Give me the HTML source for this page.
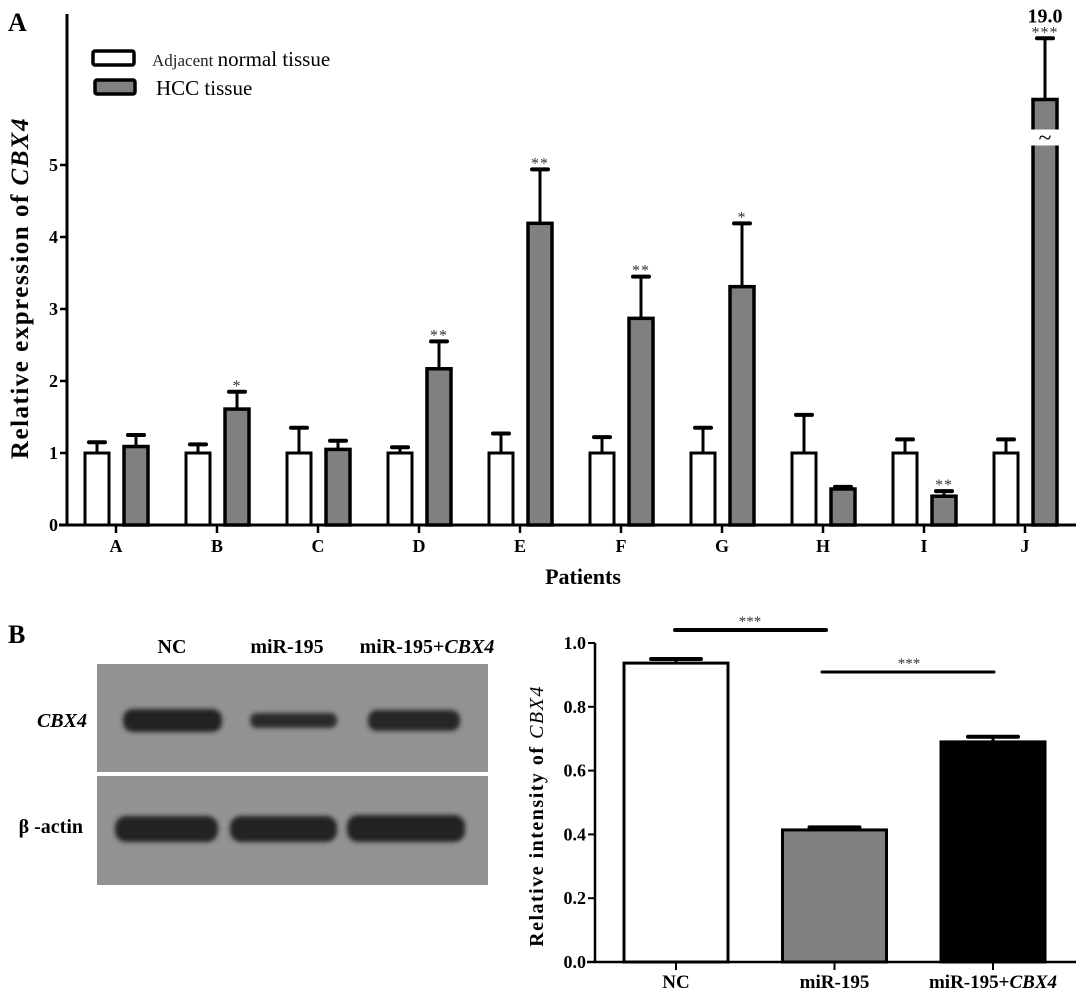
<!DOCTYPE html>
<html><head><meta charset="utf-8"><style>
html,body{margin:0;padding:0;background:#fff;}
svg{display:block;font-family:"Liberation Serif",serif;}
</style></head><body>
<svg id="fig" width="1081" height="995" viewBox="0 0 1081 995">
<rect x="0" y="0" width="1081" height="995" fill="#fff"/>
<text x="8" y="31" font-size="26" font-weight="bold">A</text>
<g id="chartA"></g>
<text x="8" y="643" font-size="26" font-weight="bold">B</text>
<g id="blot">
  <text x="172" y="653" font-size="20" font-weight="bold" text-anchor="middle">NC</text>
  <text x="287" y="653" font-size="20" font-weight="bold" text-anchor="middle">miR-195</text>
  <text x="427" y="653" font-size="20" font-weight="bold" text-anchor="middle">miR-195+<tspan font-style="italic">CBX4</tspan></text>
  <defs><filter id="blur" x="-20%" y="-60%" width="140%" height="220%"><feGaussianBlur stdDeviation="2.5"/></filter></defs>
  <rect x="97" y="664" width="391" height="108" fill="#939393"/>
  <rect x="97" y="776" width="391" height="109" fill="#939393"/>
  <g filter="url(#blur)">
    <rect x="123" y="709" width="99" height="23" rx="10" fill="#222"/>
    <rect x="250" y="713" width="87" height="15" rx="7" fill="#2a2a2a"/>
    <rect x="368" y="710" width="92" height="21" rx="9" fill="#262626"/>
    <rect x="115" y="816" width="103" height="26" rx="11" fill="#202020"/>
    <rect x="230" y="816" width="107" height="26" rx="11" fill="#202020"/>
    <rect x="347" y="815" width="118" height="27" rx="11" fill="#202020"/>
  </g>
  <text x="87" y="727" font-size="20" font-weight="bold" font-style="italic" text-anchor="end">CBX4</text>
  <text x="83" y="833" font-size="20" font-weight="bold" text-anchor="end">β -actin</text>
</g>
<g id="chartB"></g>
</svg>
<script>
const NS="http://www.w3.org/2000/svg";
// ---- Chart A data ----
const patients=["A","B","C","D","E","F","G","H","I","J"];
const normalVals=[1,1,1,1,1,1,1,1,1,1];
const normalErr=[0.15,0.12,0.35,0.08,0.27,0.22,0.35,0.53,0.19,0.19];
const hccVals=[1.09,1.61,1.05,2.17,4.19,2.87,3.31,0.50,0.40,19.0];
const hccErr=[0.16,0.24,0.12,0.38,0.75,0.58,0.88,0.03,0.07,0.85];
const hccSig=["","*","","**","**","**","*","","**","***"];
const yTicksA=[0,1,2,3,4,5];
// ---- Chart B data ----
const groupsB=["NC","miR-195","miR-195+CBX4"];
const intensity=[0.937,0.414,0.690];
const intensityErr=[0.013,0.008,0.016];
const yTicksB=[0.0,0.2,0.4,0.6,0.8,1.0];

function el(tag,attrs,parent,txt){const e=document.createElementNS(NS,tag);for(const k in attrs)e.setAttribute(k,attrs[k]);if(txt!==undefined)e.textContent=txt;parent.appendChild(e);return e;}

// Chart A
(function(){
  const g=document.getElementById('chartA');
  const x0=67,y0=525,ppu=72,spacing=101,firstC=116,capMax=5.91;
  const yA=v=>y0-v*ppu;
  const xA=i=>firstC+i*spacing;
  let a=el('line',{x1:x0,y1:14,x2:x0,y2:y0+1,stroke:'#000','stroke-width':3},g);
  
  
  a=el('line',{x1:x0-8,y1:y0,x2:1076,y2:y0,stroke:'#000','stroke-width':3},g);
  
  
  yTicksA.forEach(t=>{
    const y=yA(t);
    el('line',{x1:x0-7,y1:y,x2:x0,y2:y,stroke:'#000','stroke-width':2.5},g);
    const tx=el('text',{x:x0-9,y:y+6,'font-size':18,'font-weight':'bold','text-anchor':'end'},g,String(t));
    
    
  });
  patients.forEach((p,i)=>{
    const c=xA(i);
    el('line',{x1:c,y1:y0,x2:c,y2:y0+8,stroke:'#000','stroke-width':2.5},g);
    const lt=el('text',{x:c,y:552,'font-size':18,'font-weight':'bold','text-anchor':'middle'},g,p);
    
    
    const nv=normalVals[i],ne=normalErr[i];
    el('line',{x1:c-19,y1:yA(nv),x2:c-19,y2:yA(nv+ne),stroke:'#000','stroke-width':3},g);
    el('line',{x1:c-27,y1:yA(nv+ne),x2:c-11,y2:yA(nv+ne),stroke:'#000','stroke-width':4,'stroke-linecap':'round'},g);
    const nb=el('rect',{x:c-31,y:yA(nv),width:24,height:y0-yA(nv),fill:'#fff',stroke:'#000','stroke-width':3},g);
    
    
    let hv=hccVals[i],he=hccErr[i],broken=false;
    if(hv>capMax){broken=true;hv=capMax;}
    const top=yA(hv),et=yA(hv+he);
    el('line',{x1:c+20,y1:top,x2:c+20,y2:et,stroke:'#000','stroke-width':3},g);
    el('line',{x1:c+12,y1:et,x2:c+28,y2:et,stroke:'#000','stroke-width':4,'stroke-linecap':'round'},g);
    const hb=el('rect',{x:c+8,y:top,width:24,height:y0-top,fill:'#808080',stroke:'#000','stroke-width':3.5},g);
    
    
    if(broken){
      el('rect',{x:c+4,y:top+30,width:32,height:16,fill:'#fff'},g);
      const br=el('text',{x:c+20,y:top+46,'font-size':24,'text-anchor':'middle'},g,'~');
      
      
      const vl=el('text',{x:c+20,y:et-16,'font-size':20,'font-weight':'bold','text-anchor':'middle'},g,hccVals[i].toFixed(1));
      
      
    }
    if(hccSig[i]){
      const s=el('text',{x:c+20,y:et-1,'font-size':16,'text-anchor':'middle','fill':'#333','letter-spacing':'1'},g,hccSig[i]);
      
      
    }
  });
  let r=el('rect',{x:93,y:51,width:41,height:14,rx:2,fill:'#fff',stroke:'#000','stroke-width':3.5},g);
  
  
  let t=el('text',{x:152,y:66,'font-size':21},g);
  
  
  el('tspan',{'font-size':17,fill:'#222'},t,'Adjacent ');
  el('tspan',{},t,'normal tissue');
  r=el('rect',{x:95,y:80,width:40,height:14,rx:2,fill:'#808080',stroke:'#000','stroke-width':3.5},g);
  
  
  t=el('text',{x:156,y:95,'font-size':21},g,'HCC tissue');
  
  
  t=el('text',{x:0,y:0,'font-size':25,'font-weight':'bold','text-anchor':'middle','letter-spacing':'1.5',transform:'translate(28,288) rotate(-90)'},g);
  
  
  el('tspan',{},t,'Relative expression of ');
  el('tspan',{'font-style':'italic'},t,'CBX4');
  t=el('text',{x:583,y:584,'font-size':22,'font-weight':'bold','text-anchor':'middle'},g,'Patients');
  
  
})();

// Chart B
(function(){
  const g=document.getElementById('chartB');
  const x0=595,y0=962,ppu=319,firstC=676,spacing=158.5,bw=104;
  const yB=v=>y0-v*ppu;
  const xB=i=>firstC+i*spacing;
  const fills=['#fff','#808080','#000'];
  let a=el('line',{x1:x0,y1:yB(1.0),x2:x0,y2:y0+1,stroke:'#000','stroke-width':2.5},g);
  
  
  a=el('line',{x1:x0-8,y1:y0,x2:1076,y2:y0,stroke:'#000','stroke-width':2.5},g);
  
  
  yTicksB.forEach(t=>{
    const y=yB(t);
    el('line',{x1:x0-7,y1:y,x2:x0,y2:y,stroke:'#000','stroke-width':2},g);
    const tx=el('text',{x:x0-9,y:y+6,'font-size':18,'font-weight':'bold','text-anchor':'end'},g,t.toFixed(1));
    
    
  });
  groupsB.forEach((gname,i)=>{
    const c=xB(i),v=intensity[i],e=intensityErr[i];
    el('line',{x1:c,y1:y0,x2:c,y2:y0+8,stroke:'#000','stroke-width':2},g);
    el('line',{x1:c-25,y1:yB(v+e),x2:c+25,y2:yB(v+e),stroke:'#000','stroke-width':4,'stroke-linecap':'round'},g);
    el('line',{x1:c,y1:yB(v),x2:c,y2:yB(v+e),stroke:'#000','stroke-width':3},g);
    const b=el('rect',{x:c-bw/2,y:yB(v),width:bw,height:y0-yB(v),fill:fills[i],stroke:'#000','stroke-width':3},g);
    
    
    const lt=el('text',{x:c,y:988,'font-size':19,'font-weight':'bold','text-anchor':'middle'},g);
    
    
    if(gname.indexOf('+')>0){el('tspan',{},lt,'miR-195+');el('tspan',{'font-style':'italic'},lt,'CBX4');}
    else lt.textContent=gname;
  });
  let l=el('line',{x1:675,y1:630,x2:826,y2:630,stroke:'#000','stroke-width':4,'stroke-linecap':'round'},g);
  
  
  let s=el('text',{x:750,y:626,'font-size':15,'text-anchor':'middle',fill:'#333'},g,'***');
  
  
  l=el('line',{x1:822,y1:672,x2:994,y2:672,stroke:'#000','stroke-width':3,'stroke-linecap':'round'},g);
  
  
  s=el('text',{x:909,y:668,'font-size':15,'text-anchor':'middle',fill:'#333'},g,'***');
  
  
  const t=el('text',{x:0,y:0,'font-size':20,'font-weight':'bold','text-anchor':'middle','letter-spacing':'1.5',transform:'translate(543,816) rotate(-90)'},g);
  
  
  el('tspan',{},t,'Relative intensity of  ');
  el('tspan',{'font-style':'italic','font-weight':'normal'},t,'CBX4');
})();
</script>
</body></html>
